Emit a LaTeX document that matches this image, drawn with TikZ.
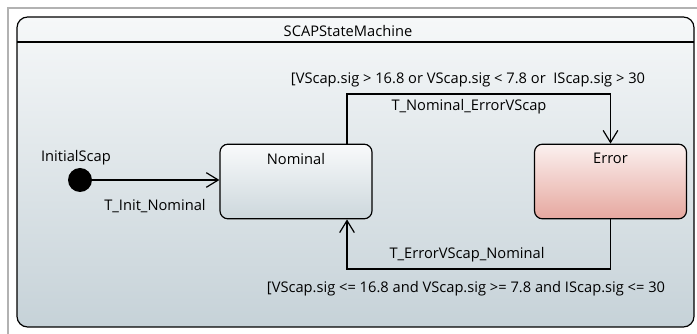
\documentclass[tikz,border=0pt]{standalone}
\usepackage{fontspec}
\setmainfont{Open Sans}
\usetikzlibrary{arrows.meta}
\definecolor{smtop}{HTML}{F6F8F9}
\definecolor{smbot}{HTML}{C6D2D8}
\definecolor{nomtop}{HTML}{F9FAFB}
\definecolor{nombot}{HTML}{CCD7DC}
\definecolor{errtop}{HTML}{FBF1EF}
\definecolor{errbot}{HTML}{E6A79F}
\begin{document}
\begin{tikzpicture}[x=0.75pt, y=-0.75pt,
  state/.style={draw, rounded corners=6pt, minimum width=114pt, minimum height=56pt,
    line width=0.9pt, inner sep=0pt},
  trans/.style={-{Straight Barb[length=9pt,width=11pt]}, line width=0.9pt},
  lbl/.style={font=\fontsize{11}{13}\selectfont, inner sep=1pt}
]
\useasboundingbox (0,0) rectangle (697,334);
% outer frame and state machine region
\draw[gray!60, line width=0.8pt] (8,334) -- (8,8) -- (697,8);
\draw[rounded corners=8pt, top color=smtop, bottom color=smbot, line width=0.9pt]
  (17,17) rectangle (694,327);
\draw[line width=0.9pt] (17,42) -- (694,42);
\node[lbl] (title) at (348,31) {SCAPStateMachine};
% states
\node[circle, fill, minimum size=18pt, inner sep=0pt] (init) at (80,180) {};
\node[lbl] (initname) at (76,158) {InitialScap};
\node[state, top color=nomtop, bottom color=nombot,
  label={[lbl, anchor=north, yshift=-6pt]north:Nominal}] (nominal) at (296,181.5) {};
\node[state, top color=errtop, bottom color=errbot,
  label={[lbl, anchor=north, yshift=-6pt]north:Error}] (error) at (610.5,181.5) {};
% transitions
\coordinate (topbend) at (347,94);
\coordinate (botbend) at (347,269);
\draw[trans] (init) -- (nominal.west |- init);
\draw[trans] (nominal.north -| topbend) -- (topbend) -| (error);
\draw[trans] (error) |- (botbend) -- (nominal.south -| botbend);
% transition labels
\node[lbl] (tinit) at (155,206) {T\_Init\_Nominal};
\node[lbl] (guardup) at (468,80) {[VScap.sig > 16.8 or VScap.sig < 7.8 or \ IScap.sig > 30};
\node[lbl] (tnomerr) at (469,107) {T\_Nominal\_ErrorVScap};
\node[lbl] (terrnom) at (467,255) {T\_ErrorVScap\_Nominal};
\node[lbl] (guarddown) at (466,289) {[VScap.sig <= 16.8 and VScap.sig >= 7.8 and IScap.sig <= 30};
\end{tikzpicture}
\end{document}
